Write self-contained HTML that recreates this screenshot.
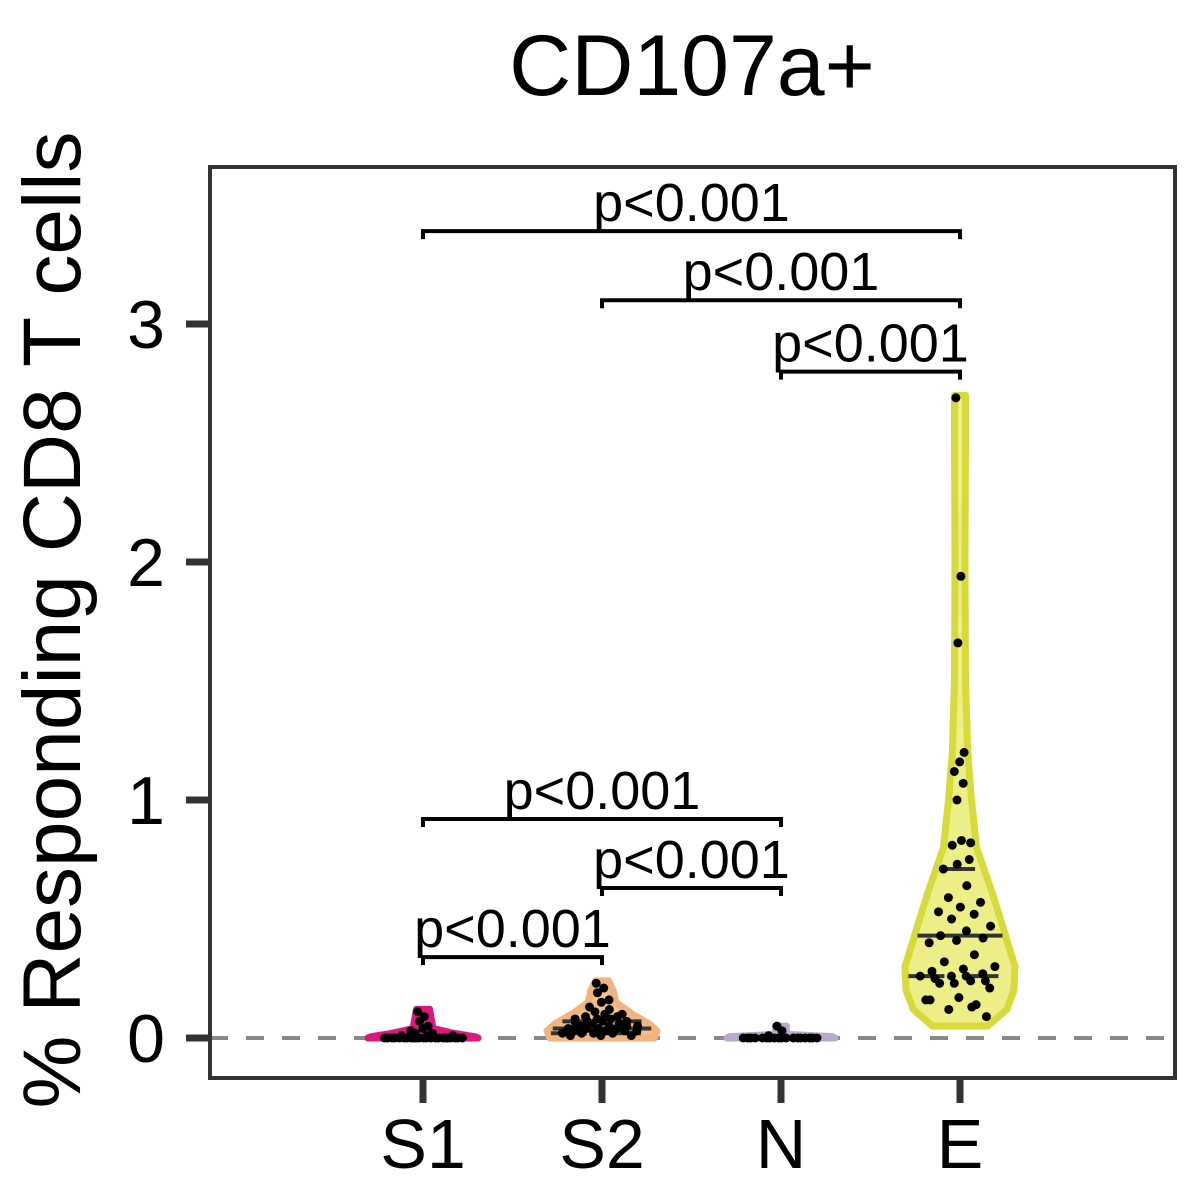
<!DOCTYPE html>
<html><head><meta charset="utf-8"><style>
html,body{margin:0;padding:0;background:#fff;}
svg{display:block;font-family:"Liberation Sans",Arial,sans-serif;}
</style></head><body>
<svg id="chart" width="1200" height="1200" viewBox="0 0 1200 1200">
<text x="692" y="95" font-size="86" text-anchor="middle">CD107a+</text>
<text transform="translate(80,620) rotate(-90)" font-size="82" text-anchor="middle">% Responding CD8 T cells</text>
<g id="plot"></g>
</svg>
<script>
const categories = ["S1","S2","N","E"];
const yTicks = [0,1,2,3];
const yTickLabels = ["0","1","2","3"];
const colors = ["#e0157f","#f2b47e","#b8a9d2","#d6da3a"];
const fills = ["#e8238a","#f5c08f","#c2b5d8","#ecec7b"];
const s1Levels = [0,0.005,0.02,0.04,0.08,0.12];
const s1Widths = [1,0.95,0.55,0.18,0.15,0.12];
const s2Levels = [0,0.03,0.06,0.1,0.15,0.2,0.24];
const s2Widths = [0.95,1,0.85,0.55,0.25,0.2,0.12];
const nLevels = [0,0.006,0.015,0.03,0.05];
const nWidths = [1,0.95,0.12,0.1,0.1];
const eLevels = [0.05,0.12,0.2,0.3,0.45,0.6,0.8,1.0,1.2,1.5,2.0,2.5,2.7];
const eWidths = [0.5,0.85,0.98,1,0.8,0.6,0.3,0.21,0.14,0.1,0.09,0.1,0.1];
const s1Values = [0.11,0.09,0.07,0.05,0.04,0.03,0.02,0.02,0.01,0.01,0.01,0,0,0,0,0,0,0,0,0,0,0,0,0,0,0,0,0,0,0,0,0,0,0];
const s2Values = [0.23,0.21,0.19,0.16,0.15,0.13,0.12,0.11,0.1,0.1,0.09,0.09,0.08,0.08,0.08,0.07,0.07,0.07,0.06,0.06,0.06,0.05,0.05,0.05,0.05,0.04,0.04,0.04,0.04,0.03,0.03,0.03,0.03,0.02,0.02,0.02,0.02,0.01,0.01,0.01];
const nValues = [0.05,0.03,0.01,0,0,0,0,0,0,0,0,0,0,0,0,0,0,0,0,0,0];
const eValues = [2.69,1.94,1.66,1.2,1.16,1.12,1.07,1.0,0.82,0.83,0.81,0.75,0.73,0.71,0.64,0.59,0.57,0.55,0.53,0.52,0.5,0.47,0.45,0.43,0.42,0.41,0.4,0.35,0.32,0.3,0.29,0.28,0.27,0.26,0.26,0.24,0.23,0.21,0.17,0.16,0.14,0.12,0.09,0.26,0.25,0.24,0.23,0.16,0.13];
const eQuartiles = [0.26,0.43,0.71];
const s2Quartiles = [0.02,0.04,0.07];
const comparisons = [[0,3,3.39],[1,3,3.1],[2,3,2.8],[0,2,0.92],[1,2,0.63],[0,1,0.34]];
const pLabels = ["p<0.001","p<0.001","p<0.001","p<0.001","p<0.001","p<0.001"];

const NS="http://www.w3.org/2000/svg";
const X0=210,X1=1175,Y0=167,Y1=1078;
const yScale=v=>1038-v*238;
const xScale=i=>423+i*179;
const g=document.getElementById('plot');
function mk(tag,attrs,parent){const e=document.createElementNS(NS,tag);for(const k in attrs)e.setAttribute(k,attrs[k]);(parent||g).appendChild(e);return e;}

let zl=mk('line',{x1:X0,x2:X1,y1:yScale(0),y2:yScale(0),stroke:'#888',"stroke-width":4,"stroke-dasharray":"18,18"});



const profiles=[[s1Levels,s1Widths],[s2Levels,s2Widths],[nLevels,nWidths],[eLevels,eWidths]];
const values=[s1Values,s2Values,nValues,eValues];
const maxHalf=[55,55,54,55];
profiles.forEach((p,i)=>{
  const [lv,wd]=p;const cx=xScale(i);let right=[],left=[];
  lv.forEach((v,k)=>{right.push([cx+wd[k]*maxHalf[i],yScale(v)]);});
  for(let k=lv.length-1;k>=0;k--)left.push([cx-wd[k]*maxHalf[i],yScale(lv[k])]);
  const pts=right.concat(left).map(q=>q[0].toFixed(1)+','+q[1].toFixed(1)).join(' ');
  const v=mk('polygon',{points:pts,fill:fills[i],stroke:colors[i],"stroke-width":7,"stroke-linejoin":"round","fill-opacity":i==3?0.9:1});
  
  
});
function halfAt(i,val){const [lv,wd]=profiles[i];if(val<=lv[0])return wd[0];for(let k=1;k<lv.length;k++){if(val<=lv[k]){const t=(val-lv[k-1])/(lv[k]-lv[k-1]);return wd[k-1]+t*(wd[k]-wd[k-1]);}}return wd[wd.length-1];}
[[3,eQuartiles],[1,s2Quartiles]].forEach(([i,qs])=>{qs.forEach((q,k)=>{
  const hw=halfAt(i,q)*maxHalf[i]-3;
  const ln=mk('line',{x1:xScale(i)-hw,x2:xScale(i)+hw,y1:yScale(q),y2:yScale(q),stroke:'#333',"stroke-width":4,"stroke-dasharray":k==1?"none":"36,18"});
  
  
});});
values.forEach((arr,i)=>{
  arr.forEach((v,k)=>{
    const hw=halfAt(i,v)*maxHalf[i]*0.75;
    const f=((k*0.618034)%1)*2-1;
    const off=f*hw;
    const c=mk('circle',{cx:xScale(i)+off,cy:yScale(v),r:4.5,fill:'#000'});
    
    
  });
});
comparisons.forEach((c,k)=>{
  const x1=xScale(c[0]),x2=xScale(c[1]),y=yScale(c[2]);
  const b=mk('path',{d:`M${x1},${y+8}V${y}H${x2}V${y+8}`,fill:'none',stroke:'#000',"stroke-width":4});
  
  
  const t=mk('text',{x:(x1+x2)/2,y:y-10,"font-size":54,"text-anchor":"middle",fill:'#000'});
  t.textContent=pLabels[k];
  
  
});
const fr=mk('rect',{x:X0,y:Y0,width:X1-X0,height:Y1-Y0,fill:'none',stroke:'#333',"stroke-width":4});


yTicks.forEach((v,k)=>{
  const t=mk('line',{x1:186,x2:X0,y1:yScale(v),y2:yScale(v),stroke:'#333',"stroke-width":7});
  
  
  const l=mk('text',{x:165,y:yScale(v)+24,"font-size":68,"text-anchor":"end",fill:'#000'});
  l.textContent=yTickLabels[k];
  
  
});
categories.forEach((c,i)=>{
  const t=mk('line',{x1:xScale(i),x2:xScale(i),y1:Y1,y2:1103,stroke:'#333',"stroke-width":7});
  
  
  const l=mk('text',{x:xScale(i),y:1168,"font-size":70,"text-anchor":"middle",fill:'#000'});
  l.textContent=c;
  
  
});
</script>
</body></html>
